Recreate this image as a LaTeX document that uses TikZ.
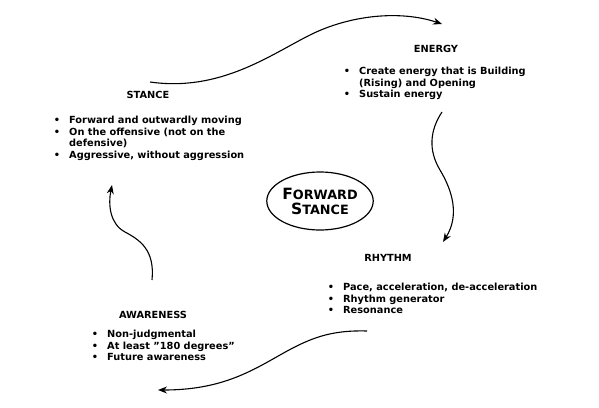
\documentclass[tikz,border=0pt]{standalone}
\usepackage{fontspec}
\setmainfont{DejaVu Sans}
\usetikzlibrary{arrows.meta,shapes.geometric}
\newcommand{\bul}{\llap{\textbullet\hspace{9pt}}}
\tikzset{
  heading/.style={anchor=base, font=\bfseries\fontsize{9.8}{11.7}\selectfont, inner sep=0},
  blist/.style={anchor=base west, align=left, font=\bfseries\fontsize{9.8}{11.7}\selectfont, inner sep=0},
  flow/.style={line width=1.1pt, -{Stealth[length=9pt,width=7pt]}},
  core/.style={draw, line width=1.2pt, ellipse, minimum width=104pt, minimum height=58pt, inner sep=0, align=center, font=\bfseries}
}
\begin{document}
\begin{tikzpicture}[x=1pt,y=-1pt]
\useasboundingbox (0,0) rectangle (599,407);
\node[heading] (hst) at (148,98.5) {STANCE};
\node[blist] (lst) at (69,158.6) {\bul Forward and outwardly moving\\\bul On the offensive (not on the\\defensive)\\\bul Aggressive, without aggression};
\node[heading] (hen) at (436,52.5) {ENERGY};
\node[blist] (len) at (359,97.9) {\bul Create energy that is Building\\(Rising) and Opening\\\bul Sustain energy};
\node[heading] (hrh) at (388,261.5) {RHYTHM};
\node[blist] (lrh) at (343,313.9) {\bul Pace, acceleration, de-acceleration\\\bul Rhythm generator\\\bul Resonance};
\node[heading] (haw) at (153,318.5) {AWARENESS};
\node[blist] (law) at (107,360.9) {\bul Non-judgmental\\\bul At least {\char34}180 degrees{\char34}\\\bul Future awareness};
\node[core] (fs) at (320,201) {{\fontsize{15.5}{15}\selectfont F}{\fontsize{12.8}{15}\selectfont ORWARD}\\[3pt]{\fontsize{15.5}{15}\selectfont S}{\fontsize{12.8}{15}\selectfont TANCE}};
\coordinate (a1) at (150,82);
\coordinate (a2) at (442,24);
\coordinate (b1) at (442,112);
\coordinate (b2) at (443,242);
\coordinate (c1) at (367,331);
\coordinate (c2) at (158,390);
\coordinate (d1) at (152,280);
\coordinate (d2) at (112,185);
\draw[flow] (a1) .. controls (220,92) and (270,55) .. (310,35) .. controls (350,15) and (400,10) .. (a2);
\draw[flow] (b1) .. controls (430,130) and (428,150) .. (440,170) .. controls (452,190) and (460,215) .. (b2);
\draw[flow] (c1) .. controls (330,330) and (310,338) .. (280,355) .. controls (250,372) and (220,390) .. (c2);
\draw[flow] (d1) .. controls (155,250) and (140,240) .. (125,232) .. controls (110,224) and (108,205) .. (d2);
\end{tikzpicture}
\end{document}
